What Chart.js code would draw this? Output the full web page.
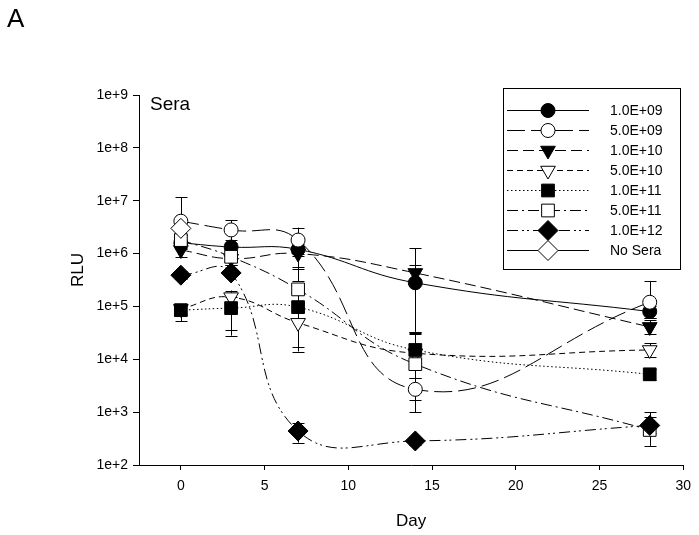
<!DOCTYPE html>
<html>
<head>
<meta charset="utf-8">
<script src="https://cdn.jsdelivr.net/npm/chart.js@4.4.0/dist/chart.umd.min.js"></script>
<style>
html, body { margin: 0; padding: 0; background: #fff; }
#wrap { width: 699px; height: 535px; position: relative; }
</style>
</head>
<body>
<div id="wrap"><canvas id="rluChart"></canvas></div>
<script>
// sampling days
const days = [0, 3, 7, 14, 28];
const yTicks = [1e2, 1e3, 1e4, 1e5, 1e6, 1e7, 1e8, 1e9];
const xTicks = [0, 5, 10, 15, 20, 25, 30];
const seriesNames = ['1.0E+09', '5.0E+09', '1.0E+10', '5.0E+10', '1.0E+11', '5.0E+11', '1.0E+12', 'No Sera'];

// mean RLU per series
const rlu1e09 = [1.6e6, 1.33e6, 1.2e6, 2.8e5, 8.0e4];
const rlu5e09 = [4.1e6, 2.8e6, 1.8e6, 2.7e3, 1.2e5];
const rlu1e10 = [1.17e6, 8.0e5, 1.0e6, 4.3e5, 4.1e4];
const rlu5e10 = [9.0e4, 1.5e5, 4.9e4, 1.3e4, 1.5e4];
const rlu1e11 = [8.5e4, 9.3e4, 9.7e4, 1.5e4, 5.2e3];
const rlu5e11 = [1.8e6, 8.7e5, 2.1e5, 8.1e3, 4.6e2];
const rlu1e12 = [3.9e5, 4.3e5, 4.4e2, 2.85e2, 5.6e2];
const rluNoSera = [3.0e6, null, null, null, null];

// error bar ends (low / high)
const lo1e09 = [1.2e6, 1.1e6, 9.0e5, 3.3e4, 6.0e4];
const hi1e09 = [2.1e6, 1.6e6, 1.5e6, 1.25e6, 1.0e5];
const lo5e09 = [1.6e6, 1.8e6, 1.0e6, 1.7e3, 6.0e4];
const hi5e09 = [1.17e7, 4.3e6, 3.1e6, 4.4e3, 3.0e5];
const lo1e10 = [8.6e5, 6.0e5, 5.1e5, 3.0e5, 3.0e4];
const hi1e10 = [1.5e6, 1.0e6, 1.4e6, 6.0e5, 5.5e4];
const lo5e10 = [7.0e4, 3.6e4, 1.4e4, 1.0e4, 1.1e4];
const hi5e10 = [1.1e5, 2.0e5, 1.2e5, 3.2e4, 2.0e4];
const lo1e11 = [5.2e4, 2.8e4, 1.7e4, 1.0e3, 4.0e3];
const hi1e11 = [1.1e5, 1.5e5, 1.9e5, 3.3e4, 6.5e3];
const lo5e11 = [1.3e6, 6.0e5, 5.6e5, 4.5e3, 2.3e2];
const hi5e11 = [2.2e6, 1.1e6, 3.0e5, 3.0e4, 8.0e2];
const lo1e12 = [3.3e5, 3.7e5, 2.65e2, 2.4e2, 4.0e2];
const hi1e12 = [4.6e5, 5.0e5, 6.2e2, 3.3e2, 1.0e3];
const loNoSera = [2.2e6, null, null, null, null];
const hiNoSera = [4.0e6, null, null, null, null];

const means = [rlu1e09, rlu5e09, rlu1e10, rlu5e10, rlu1e11, rlu5e11, rlu1e12, rluNoSera];
const lows = [lo1e09, lo5e09, lo1e10, lo5e10, lo1e11, lo5e11, lo1e12, loNoSera];
const highs = [hi1e09, hi5e09, hi1e10, hi5e10, hi1e11, hi5e11, hi1e12, hiNoSera];

// marker / line look per series
const styles = [
    { shape: 'circle',   r: 7,   fill: '#000', dash: [] },
    { shape: 'circle',   r: 7,   fill: '#fff', dash: [18, 6] },
    { shape: 'triangle', r: 8.5, fill: '#000', dash: [11, 5], rot: 180 },
    { shape: 'triangle', r: 8.5, fill: '#fff', dash: [6, 4], rot: 180 },
    { shape: 'rect',     r: 9,   fill: '#000', dash: [1.5, 2.5] },
    { shape: 'rect',     r: 9,   fill: '#fff', dash: [11, 4, 2, 4] },
    { shape: 'rectRot',  r: 10,  fill: '#000', dash: [11, 4, 2, 3, 2, 4] },
    { shape: 'rectRot',  r: 10,  fill: '#fff', dash: [] }
];

const FONT = '"Liberation Sans", Arial, sans-serif';

const datasets = seriesNames.map((name, i) => ({
    label: name,
    data: days.map((d, j) => ({ x: d, y: means[i][j] })).filter(p => p.y !== null),
    borderColor: '#000',
    borderWidth: 1,
    borderDash: styles[i].dash,
    backgroundColor: styles[i].fill,
    pointStyle: styles[i].shape,
    pointRadius: styles[i].r,
    pointRotation: styles[i].rot || 0,
    pointBorderColor: '#000',
    pointBackgroundColor: styles[i].fill,
    pointBorderWidth: 1,
    tension: 0.45,
    fill: false,
    order: seriesNames.length - i
}));

// error bars, drawn under the markers
const errorBars = {
    id: 'errorBars',
    beforeDatasetsDraw(chart) {
        const ctx = chart.ctx;
        const xs = chart.scales.x, ys = chart.scales.y;
        ctx.save();
        ctx.strokeStyle = '#000';
        ctx.lineWidth = 1;
        ctx.setLineDash([]);
        means.forEach((m, i) => {
            days.forEach((d, j) => {
                if (m[j] === null || lows[i][j] === null) return;
                const px = Math.round(xs.getPixelForValue(d)) + 0.5;
                const pLo = ys.getPixelForValue(lows[i][j]);
                const pHi = ys.getPixelForValue(highs[i][j]);
                ctx.beginPath();
                ctx.moveTo(px, pLo);
                ctx.lineTo(px, pHi);
                ctx.moveTo(px - 6, Math.round(pLo) + 0.5);
                ctx.lineTo(px + 6, Math.round(pLo) + 0.5);
                ctx.moveTo(px - 6, Math.round(pHi) + 0.5);
                ctx.lineTo(px + 6, Math.round(pHi) + 0.5);
                ctx.stroke();
            });
        });
        ctx.restore();
    }
};

// panel letter, inset label, axis titles and the boxed legend
const annotations = {
    id: 'annotations',
    afterDraw(chart) {
        const ctx = chart.ctx;
        const area = chart.chartArea;
        ctx.save();
        ctx.fillStyle = '#000';
        ctx.textBaseline = 'alphabetic';

        ctx.font = '26px ' + FONT;
        ctx.textAlign = 'left';
        ctx.fillText('A', 7, 27);

        ctx.font = '19px ' + FONT;
        ctx.fillText('Sera', area.left + 11, 110);

        ctx.font = '17px ' + FONT;
        ctx.textAlign = 'center';
        ctx.fillText('Day', (area.left + area.right) / 2, 526);

        ctx.save();
        ctx.translate(83, 270);
        ctx.rotate(-Math.PI / 2);
        ctx.fillText('RLU', 0, 0);
        ctx.restore();

        // legend box
        ctx.lineWidth = 1;
        ctx.strokeStyle = '#000';
        ctx.strokeRect(503.5, 88.5, 177, 181);
        ctx.font = '14px ' + FONT;
        ctx.textAlign = 'left';
        ctx.textBaseline = 'middle';
        seriesNames.forEach((name, i) => {
            const y = 110 + i * 20;
            ctx.beginPath();
            ctx.setLineDash(styles[i].dash);
            ctx.moveTo(507, y + 0.5);
            ctx.lineTo(589, y + 0.5);
            ctx.stroke();
            ctx.setLineDash([]);
            ctx.fillStyle = styles[i].fill;
            ctx.strokeStyle = '#000';
            Chart.helpers.drawPoint(ctx, {
                pointStyle: styles[i].shape,
                rotation: styles[i].rot || 0,
                radius: styles[i].r,
                borderWidth: 1
            }, 548, y + 0.5);
            ctx.fillStyle = '#000';
            ctx.fillText(name, 610, y + 1);
        });
        ctx.restore();
    }
};

new Chart(document.getElementById('rluChart'), {
    type: 'line',
    data: { datasets: datasets },
    options: {
        responsive: true,
        maintainAspectRatio: false,
        animation: false,
        layout: { padding: { left: 0, right: 14, top: 95, bottom: 0 } },
        plugins: {
            legend: { display: false },
            tooltip: { enabled: false }
        },
        scales: {
            x: {
                type: 'linear',
                min: -2.5,
                max: 30,
                afterBuildTicks: axis => { axis.ticks = xTicks.map(v => ({ value: v })); },
                afterFit: axis => { axis.height = 70; },
                grid: { drawOnChartArea: false, drawTicks: true, tickLength: 5, color: '#000' },
                border: { color: '#000', width: 1 },
                ticks: { color: '#000', font: { family: FONT, size: 14 }, padding: 8, maxRotation: 0 }
            },
            y: {
                type: 'logarithmic',
                min: 1e2,
                max: 1e9,
                afterBuildTicks: axis => { axis.ticks = yTicks.map(v => ({ value: v })); },
                afterFit: axis => { axis.width = 139; },
                grid: { drawOnChartArea: false, drawTicks: true, tickLength: 6, color: '#000' },
                border: { color: '#000', width: 1 },
                ticks: {
                    color: '#000',
                    font: { family: FONT, size: 14 },
                    padding: 5,
                    callback: v => '1e+' + Math.round(Math.log10(v))
                }
            }
        }
    },
    plugins: [errorBars, annotations]
});
</script>
</body>
</html>
